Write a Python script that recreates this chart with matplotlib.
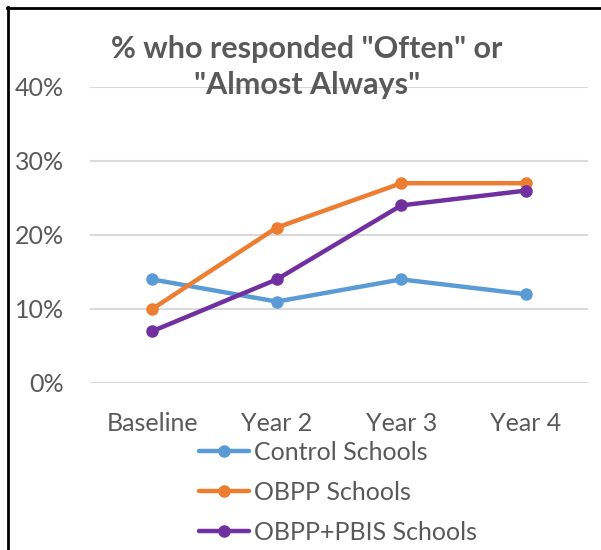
import matplotlib
matplotlib.use("Agg")
import matplotlib.pyplot as plt
from matplotlib.lines import Line2D
from matplotlib.ticker import PercentFormatter

plt.rcParams['font.family'] = ['Lato', 'DejaVu Sans']

categories = ["Baseline", "Year 2", "Year 3", "Year 4"]
control = [14, 11, 14, 12]
obpp = [10, 21, 27, 27]
obpp_pbis = [7, 14, 24, 26]
series_names = ["Control Schools", "OBPP Schools", "OBPP+PBIS Schools"]
colors = ["#5B9BD5", "#ED7D31", "#7030A0"]
y_ticks = [0, 10, 20, 30, 40]

text_color = "#595959"
W, H = 601, 550
fig = plt.figure(figsize=(W / 100, H / 100), dpi=100)
ax = fig.add_axes([90 / W, 1 - 383 / H, (588 - 90) / W, (383 - 87) / H])

x = range(len(categories))
for vals, name, c in zip([control, obpp, obpp_pbis], series_names, colors):
    ax.plot(x, vals, color=c, lw=3.2, marker="o", ms=8, label=name,
            solid_capstyle="round", zorder=3)

ax.set_xlim(-0.5, len(categories) - 0.5)
ax.set_ylim(0, 40)
ax.set_yticks(y_ticks)
ax.yaxis.set_major_formatter(PercentFormatter(decimals=0))
ax.set_xticks(list(x))
ax.set_xticklabels(categories)
ax.grid(axis="y", color="#D9D9D9", lw=1.5, zorder=0)
ax.set_axisbelow(True)
for s in ax.spines.values():
    s.set_visible(False)
ax.tick_params(axis="both", length=0, labelsize=18, labelcolor=text_color)
ax.tick_params(axis="y", pad=19)
ax.tick_params(axis="x", pad=21)

fig.text(307 / W, 1 - 67 / H, '% who responded "Often" or\n"Almost Always"',
         ha="center", va="center", fontsize=22, fontweight="bold",
         color=text_color, linespacing=1.33)

leg = ax.legend(loc="upper left", bbox_to_anchor=(199 / W, 1 - 441 / H),
                bbox_transform=fig.transFigure, frameon=False, fontsize=18,
                handlelength=2.0, handletextpad=0.2, labelspacing=0.68,
                borderpad=0, borderaxespad=0)
for t in leg.get_texts():
    t.set_color(text_color)

# frame edges along the top and left of the chart area
fig.add_artist(Line2D([7 / W, 1], [1 - 7.5 / H, 1 - 7.5 / H], color="black",
                      lw=2, transform=fig.transFigure))
fig.add_artist(Line2D([7.5 / W, 7.5 / W], [0, 1 - 7 / H], color="black",
                      lw=2, transform=fig.transFigure))

fig.savefig("out.png", dpi=100, facecolor="white")
